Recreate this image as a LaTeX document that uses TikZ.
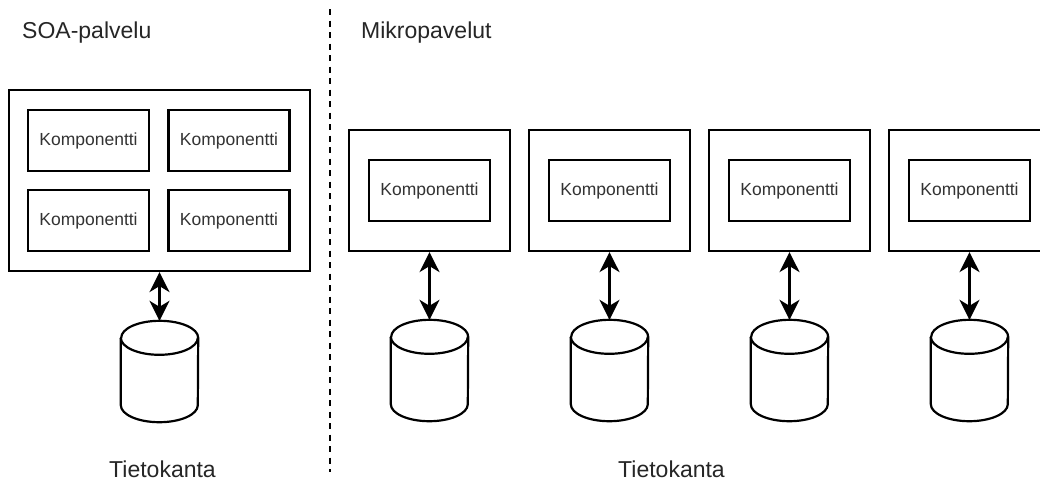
\documentclass[tikz,border=0pt]{standalone}
\usepackage{fontspec}
\setmainfont{Liberation Sans}
\usetikzlibrary{arrows.meta}

\tikzset{
  outline/.style={draw=black, line width=2.2pt},
  servicebox/.style={outline, fill=white, inner sep=0pt},
  compbox/.style={outline, fill=white, inner sep=0pt, minimum width=121pt, minimum height=61pt,
    text=black!80, font=\fontsize{17.5}{20}\selectfont},
  dbspot/.style={inner sep=0pt, minimum width=77pt, minimum height=101pt},
  heading/.style={inner sep=0pt, text=black!85, font=\fontsize{23}{27}\selectfont},
  dbtip/.tip={Stealth[length=20pt, width=20pt, inset=6pt]},
  link/.style={line width=2.2pt, dbtip-dbtip},
  divider/.style={line width=2pt, dash pattern=on 6pt off 5.5pt}
}

\begin{document}
\begin{tikzpicture}[x=1pt, y=1pt]
  \useasboundingbox (0,0) rectangle (1040,-483);
  \clip (0,0) rectangle (1040,-483);
  \fill[white] (0,0) rectangle (1040,-483);

  % section headings
  \node[heading, anchor=base west] (soatitle) at (22,-38) {SOA-palvelu};
  \node[heading, anchor=base west] (mstitle) at (361,-38) {Mikropavelut};

  % divider between the two architectures
  \coordinate (divtop) at (329.5,-9);
  \coordinate (divbot) at (329.5,-472);
  \draw[divider] (divtop) -- (divbot);

  % monolithic SOA service with four components
  \node[servicebox, minimum width=301pt, minimum height=181pt] (soa) at (159.5,-180.5) {};
  \node[compbox] (c1) at (88.5,-140.5) {Komponentti};
  \node[compbox] (c2) at (229,-140.5) {Komponentti};
  \node[compbox] (c3) at (88.5,-220.5) {Komponentti};
  \node[compbox] (c4) at (229,-220.5) {Komponentti};

  \node[dbspot] (soadb) at (159.5,-371.5) {};
  \draw[link] (soa.south) -- (soadb.north);

  % microservices, each with its own component and database
  \foreach \i/\cx in {1/429.5, 2/609.5, 3/789.5, 4/969.5} {
    \node[servicebox, minimum width=161pt, minimum height=121pt] (ms\i) at (\cx,-190.5) {};
    \node[compbox] (mc\i) at (\cx,-190.5) {Komponentti};
    \node[dbspot] (msdb\i) at (\cx,-370.5) {};
    \draw[link] (ms\i.south) -- (msdb\i.north);
  }

  % database cylinders
  \foreach \n in {soadb, msdb1, msdb2, msdb3, msdb4} {
    \draw[outline, fill=white]
      ([yshift=-17pt]\n.north west) -- ([yshift=17pt]\n.south west)
      arc[start angle=180, end angle=360, x radius=38.5pt, y radius=17pt]
      -- ([yshift=-17pt]\n.north east)
      arc[start angle=0, end angle=180, x radius=38.5pt, y radius=17pt];
    \draw[outline]
      ([yshift=-17pt]\n.north west)
      arc[start angle=180, end angle=360, x radius=38.5pt, y radius=17pt];
  }

  % database captions
  \node[heading, anchor=base] (soadblabel) at (162.5,-477) {Tietokanta};
  \node[heading, anchor=base] (msdblabel) at (671.5,-477) {Tietokanta};
\end{tikzpicture}
\end{document}
